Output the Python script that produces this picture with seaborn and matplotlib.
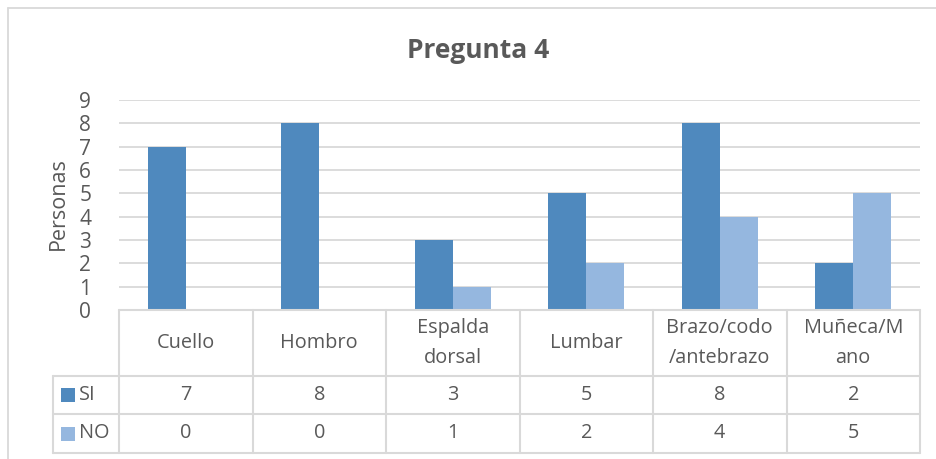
import numpy as np
import pandas as pd
import matplotlib
matplotlib.use("Agg")
import matplotlib.pyplot as plt
import seaborn as sns
from matplotlib.lines import Line2D
from matplotlib.patches import Rectangle
import matplotlib.transforms as mtransforms

categories = ["Cuello", "Hombro", "Espalda\ndorsal", "Lumbar", "Brazo/codo\n/antebrazo", "Muñeca/M\nano"]
series_names = ["SI", "NO"]
si_values = [7, 8, 3, 5, 8, 2]
no_values = [0, 0, 1, 2, 4, 5]
yticks = [0, 1, 2, 3, 4, 5, 6, 7, 8, 9]
title = "Pregunta 4"
ylabel = "Personas"

colors = {"SI": "#4F89BE", "NO": "#95B7DF"}
grid_c = "#D9D9D9"
text_c = "#595959"

sns.set_theme(style="white")
plt.rcParams["font.family"] = ["Open Sans", "DejaVu Sans"]

W, H = 936, 459
fig = plt.figure(figsize=(W / 100, H / 100), dpi=100)

def fx(x):
    return x / W

def fy(y):
    return 1 - y / H

left, right, top, bottom = 119, 920, 100, 310
ax = fig.add_axes([fx(left), fy(bottom), fx(right) - fx(left), fy(top) - fy(bottom)])

df = pd.DataFrame({
    "cat": categories * 2,
    "serie": [series_names[0]] * len(categories) + [series_names[1]] * len(categories),
    "val": si_values + no_values,
})
sns.barplot(data=df, x="cat", y="val", hue="serie", palette=colors, width=0.57,
            saturation=1, legend=False, ax=ax, edgecolor="none", linewidth=0, zorder=3)

ax.set_xlim(-0.5, len(categories) - 0.5)
ax.set_ylim(0, 9)
ax.set_yticks(yticks)
ax.set_yticklabels([str(t) for t in yticks], fontsize=15, color=text_c)
ax.tick_params(axis="y", length=0, pad=20)
ax.set_xticks([])
ax.set_xlabel("")
ax.set_ylabel("")
for s in ax.spines.values():
    s.set_visible(False)
ax.yaxis.grid(True, color=grid_c, linewidth=1.3, zorder=0)
ax.set_axisbelow(True)

# y label
fig.text(fx(58), fy(204), ylabel, rotation=90, ha="center", va="center", fontsize=15.5, color=text_c)
# title
fig.text(fx(478), fy(50), title, ha="center", va="center", fontsize=19, fontweight="bold", color=text_c)

# outer chart border
fig.add_artist(Line2D([fx(8), 1.0], [fy(7.5), fy(7.5)], color=grid_c, lw=1.3))
fig.add_artist(Line2D([fx(8), fx(8)], [fy(7.5), 0], color=grid_c, lw=1.3))

# data table
row_cat_top, row_si_top, row_no_top, table_bottom = 310, 376, 414, 453
legend_left = 53
lw = 1.5
fig.add_artist(Line2D([fx(left), fx(right)], [fy(row_cat_top)] * 2, color=grid_c, lw=lw))
for yy in (row_si_top, row_no_top, table_bottom):
    fig.add_artist(Line2D([fx(legend_left), fx(right)], [fy(yy)] * 2, color=grid_c, lw=lw))
fig.add_artist(Line2D([fx(legend_left)] * 2, [fy(row_si_top), fy(table_bottom)], color=grid_c, lw=lw))

trans = mtransforms.blended_transform_factory(ax.transData, fig.transFigure)
for b in np.arange(-0.5, len(categories), 1.0):
    fig.add_artist(Line2D([b, b], [fy(row_cat_top), fy(table_bottom)], color=grid_c, lw=lw, transform=trans))

fs = 14.3
for i, c in enumerate(categories):
    fig.text(i, fy((row_cat_top + row_si_top) / 2), c, transform=trans, ha="center", va="center",
             fontsize=fs, color=text_c, linespacing=1.65)
    fig.text(i, fy((row_si_top + row_no_top) / 2), str(si_values[i]), transform=trans, ha="center",
             va="center", fontsize=fs, color=text_c)
    fig.text(i, fy((row_no_top + table_bottom) / 2), str(no_values[i]), transform=trans, ha="center",
             va="center", fontsize=fs, color=text_c)

for name, (y0, y1) in zip(series_names, [(row_si_top, row_no_top), (row_no_top, table_bottom)]):
    yc = (y0 + y1) / 2
    fig.add_artist(Rectangle((fx(61), fy(yc + 7)), fx(14), 14 / H, color=colors[name], lw=0))
    fig.text(fx(79), fy(yc), name, ha="left", va="center", fontsize=fs, color=text_c)

fig.savefig("out.png", dpi=100)
